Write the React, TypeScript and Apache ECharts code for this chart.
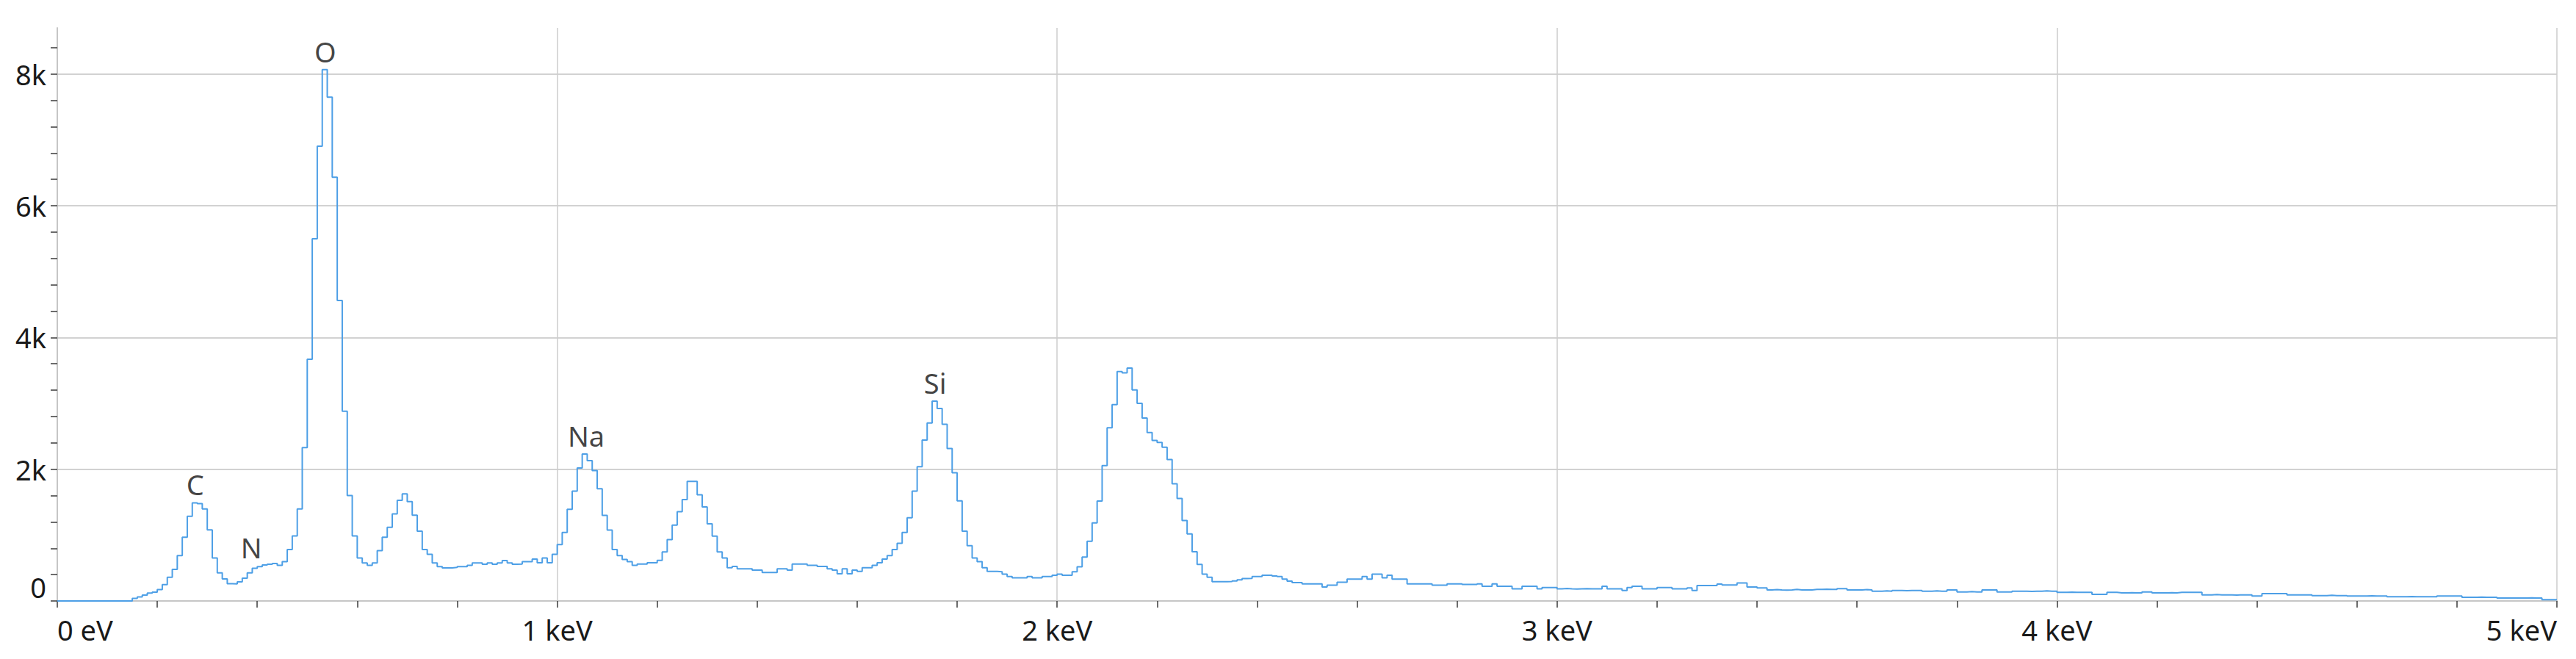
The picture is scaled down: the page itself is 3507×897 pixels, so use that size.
import React, { useEffect, useRef } from 'react';
import * as echarts from 'echarts';

// EDS spectrum, 10 eV bins starting at 0 eV (bin left edges)
const binWidthKeV = 0.01;
const counts: number[] = [
  0, 0, 0, 0, 0, 0, 0, 0, 0, 0,
  0, 0, 0, 0, 0, 38, 60, 89, 121, 135,
  172, 248, 360, 480, 690, 968, 1285, 1490, 1478, 1396,
  1080, 652, 428, 335, 262, 260, 290, 346, 428, 495,
  521, 547, 558, 570, 540, 596, 782, 987, 1396, 2327,
  3670, 5500, 6904, 8066, 7650, 6432, 4561, 2880, 1601, 987,
  652, 577, 540, 577, 763, 968, 1117, 1322, 1527, 1627,
  1508, 1303, 1061, 782, 708, 577, 521, 503, 503, 510,
  521, 521, 540, 577, 577, 559, 577, 559, 577, 614,
  577, 559, 560, 598, 598, 635, 579, 653, 579, 708,
  856, 1041, 1391, 1668, 2018, 2232, 2129, 1981, 1705, 1299,
  1077, 782, 690, 630, 598, 542, 561, 561, 579, 579,
  616, 745, 930, 1151, 1354, 1539, 1815, 1815, 1612, 1428,
  1170, 985, 745, 653, 506, 524, 487, 487, 487, 469,
  469, 432, 432, 432, 487, 487, 469, 561, 561, 561,
  542, 542, 524, 524, 487, 469, 413, 487, 413, 469,
  450, 506, 506, 542, 579, 635, 690, 782, 875, 1041,
  1262, 1668, 2037, 2443, 2701, 3033, 2922, 2683, 2314, 1945,
  1520, 1059, 838, 653, 598, 506, 450, 450, 444, 407,
  370, 352, 352, 352, 370, 352, 352, 370, 370, 389,
  407, 389, 389, 444, 518, 667, 907, 1185, 1518, 2056,
  2630, 2982, 3482, 3463, 3537, 3204, 3000, 2778, 2556, 2437,
  2407, 2333, 2148, 1778, 1556, 1222, 1019, 748, 556, 407,
  359, 293, 293, 293, 296, 304, 320, 341, 344, 370,
  370, 389, 389, 380, 370, 333, 300, 278, 278, 259,
  259, 259, 259, 211, 241, 241, 285, 285, 333, 333,
  333, 370, 333, 407, 407, 352, 389, 333, 333, 333,
  259, 259, 259, 259, 259, 241, 241, 241, 259, 259,
  259, 250, 250, 250, 259, 222, 222, 259, 222, 222,
  222, 185, 185, 222, 222, 222, 185, 204, 204, 204,
  185, 190, 185, 182, 185, 188, 185, 185, 185, 222,
  185, 185, 185, 159, 204, 222, 222, 185, 185, 185,
  204, 204, 204, 185, 185, 185, 197, 160, 235, 235,
  235, 235, 257, 242, 242, 242, 272, 272, 212, 212,
  197, 197, 168, 172, 168, 165, 168, 175, 168, 168,
  168, 175, 175, 178, 175, 175, 186, 186, 168, 168,
  168, 172, 168, 149, 149, 152, 149, 160, 160, 157,
  160, 160, 160, 149, 149, 152, 149, 149, 168, 168,
  138, 138, 141, 138, 138, 168, 168, 168, 138, 138,
  138, 149, 149, 149, 145, 149, 149, 152, 149, 149,
  130, 130, 134, 130, 130, 130, 130, 100, 100, 100,
  130, 130, 123, 123, 126, 123, 123, 138, 138, 123,
  123, 123, 126, 123, 130, 130, 130, 130, 130, 93,
  93, 97, 93, 93, 93, 90, 93, 93, 93, 74,
  74, 112, 112, 112, 112, 112, 93, 93, 93, 93,
  93, 82, 82, 82, 86, 82, 82, 82, 74, 74,
  74, 74, 78, 74, 74, 74, 63, 63, 63, 63,
  66, 63, 63, 63, 63, 63, 74, 74, 74, 74,
  74, 56, 56, 56, 59, 56, 56, 56, 45, 45,
  45, 45, 45, 45, 48, 45, 45, 19, 19, 19,
];

const elementNames = ['C', 'N', 'O', 'Na', 'Si'];
const elementEnergies = [0.276, 0.388, 0.536, 1.058, 1.756];
const elementAnchors = [1490, 540, 8066, 2232, 3033];

const xTickValues = [0, 1, 2, 3, 4, 5];
const xTickLabels = ['0 eV', '1 keV', '2 keV', '3 keV', '4 keV', '5 keV'];
const yLabelValues = [0, 2000, 4000, 6000, 8000];
const yLabelTexts = ['0', '2k', '4k', '6k', '8k'];
const yTickValues = [0, 400, 800, 1200, 1600, 2000, 2400, 2800, 3200, 3600, 4000, 4400, 4800, 5200, 5600, 6000, 6400, 6800, 7200, 7600, 8000, 8400];

const FONT = 'Noto Sans';

export default function App() {
  const ref = useRef<HTMLDivElement>(null);
  useEffect(() => {
    if (!ref.current) return;
    const chart = echarts.init(ref.current, null, { renderer: 'svg' });
    const spectrum: number[][] = counts.map((c, i) => [Math.round(i * binWidthKeV * 100) / 100, c]);
    spectrum.push([5, counts[counts.length - 1]]);
    const option: any = {
      animation: false,
      backgroundColor: '#ffffff',
      grid: { left: 78, right: 26, top: 38, bottom: 79, containLabel: false },
      xAxis: {
        type: 'value',
        min: 0,
        max: 5,
        interval: 1,
        axisLine: { show: true, lineStyle: { color: '#c6c6c6', width: 2 } },
        axisTick: { show: true, length: 9, lineStyle: { color: '#3a3a3a', width: 1.5 } },
        minorTick: { show: true, splitNumber: 5, length: 9, lineStyle: { color: '#3a3a3a', width: 1.5 } },
        splitLine: { show: true, lineStyle: { color: '#cdcdcd', width: 1.5 } },
        axisLabel: {
          show: true,
          margin: 20,
          fontFamily: FONT,
          fontSize: 38,
          color: '#1a1a1a',
          alignMinLabel: 'left',
          alignMaxLabel: 'right',
          formatter: (v: number) => {
            const k = xTickValues.indexOf(Math.round(v * 1000) / 1000);
            return k >= 0 ? xTickLabels[k] : '';
          },
        },
      },
      yAxis: [
        {
          type: 'value',
          min: 0,
          max: 8700,
          interval: 400,
          axisLine: { show: true, lineStyle: { color: '#c6c6c6', width: 2 } },
          axisTick: { show: true, length: 9, customValues: yTickValues, lineStyle: { color: '#3a3a3a', width: 1.5 } },
          splitLine: { show: false },
          axisLabel: {
            show: true,
            margin: 15,
            fontFamily: FONT,
            fontSize: 38,
            color: '#1a1a1a',
            verticalAlignMinLabel: 'bottom',
            formatter: (v: number) => {
              const k = yLabelValues.indexOf(Math.round(v));
              return k >= 0 ? yLabelTexts[k] : '';
            },
          },
        },
        {
          type: 'value',
          min: 0,
          max: 8700,
          interval: 2000,
          position: 'left',
          axisLine: { show: false },
          axisTick: { show: false },
          axisLabel: { show: false },
          splitLine: { show: true, showMinLine: false, showMaxLine: false, lineStyle: { color: '#d2d2d2', width: 2 } },
        },
      ],
      series: [
        {
          type: 'line',
          name: 'spectrum',
          data: spectrum,
          step: 'end',
          yAxisIndex: 0,
          showSymbol: false,
          symbol: 'none',
          silent: true,
          lineStyle: { color: '#4d9fe6', width: 2 },
          z: 3,
        },
        {
          type: 'scatter',
          name: 'elements',
          yAxisIndex: 0,
          symbolSize: 0,
          silent: true,
          z: 4,
          data: elementNames.map((n, i) => ({ name: n, value: [elementEnergies[i], elementAnchors[i]] })),
          label: {
            show: true,
            position: 'top',
            distance: 6,
            formatter: '{b}',
            fontFamily: FONT,
            fontSize: 38,
            color: '#111111',
          },
        },
      ],
    };
    chart.setOption(option);
    return () => chart.dispose();
  }, []);
  return (
    <div
      ref={ref}
      style={{ position: 'fixed', left: 0, top: 0, width: 3507, height: 897, background: '#ffffff' }}
    />
  );
}
